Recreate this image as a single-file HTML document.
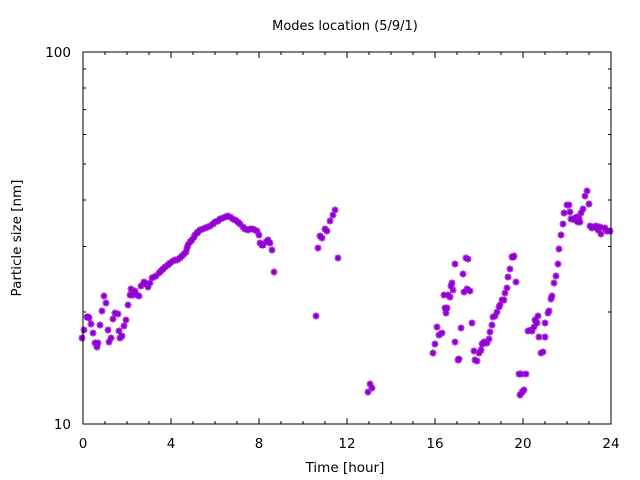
<!DOCTYPE html>
<html><head><meta charset="utf-8"><style>
body{margin:0;background:#fff;}
svg{display:block;font-family:"DejaVu Sans","Liberation Sans",sans-serif;}
</style></head><body>
<svg id="s" width="640" height="480" viewBox="0 0 640 480" xmlns="http://www.w3.org/2000/svg">
<rect width="640" height="480" fill="#fff"/>
<text x="345" y="30" font-size="13" text-anchor="middle">Modes location (5/9/1)</text>
<text x="71" y="57" font-size="13.5" text-anchor="end">100</text>
<text x="71" y="429" font-size="13.5" text-anchor="end">10</text>
<text x="83" y="448" font-size="13.5" text-anchor="middle">0</text>
<text x="171" y="448" font-size="13.5" text-anchor="middle">4</text>
<text x="259" y="448" font-size="13.5" text-anchor="middle">8</text>
<text x="347" y="448" font-size="13.5" text-anchor="middle">12</text>
<text x="435" y="448" font-size="13.5" text-anchor="middle">16</text>
<text x="523" y="448" font-size="13.5" text-anchor="middle">20</text>
<text x="611" y="448" font-size="13.5" text-anchor="middle">24</text>
<text x="345" y="472" font-size="13.5" text-anchor="middle">Time [hour]</text>
<text transform="translate(21,238) rotate(-90)" font-size="13.5" text-anchor="middle">Particle size [nm]</text>
<g id="ax" stroke="#000" stroke-width="1" fill="none"></g>
<g id="pts" stroke="#9400d3" stroke-width="1.6"></g>
<rect x="83" y="52" width="528" height="372" fill="none" stroke="#000" stroke-width="1"/>
</svg>
<script>
var ax=document.getElementById('ax'),d='';
for(var h=0;h<=24;h++){var x=83+h*22,L=(h%4==0)?6:3;d+='M'+x+' 424v-'+L+'M'+x+' 52v'+L;}
for(var v=10;v<=100;v+=10){var y=424-372*Math.log10(v/10),L=(v==10||v==100)?6:3;d+='M83 '+y+'h'+L+'M611 '+y+'h-'+L;}
var p=document.createElementNS('http://www.w3.org/2000/svg','path');p.setAttribute('d',d);ax.appendChild(p);
var P=[[82,338],[84,330],[87,317],[88,317],[89,318],[91,324],[93,333],[95,343],[97,347],[98,343],[100,325],[102,311],[104,296],[106,303],[108,330],[109,342],[111,338],[113,319],[115,313],[118,314],[119,331],[120,338],[122,336],[124,326],[126,320],[128,305],[130,295],[131,289],[133,295],[135,291],[137,295],[139,296],[141,286],[144,282],[146,284],[148,287],[150,283],[152,278],[154,277],[156,276],[159,273],[161,271],[163,269],[165,267],[168,265],[170,263],[173,261],[175,260],[177,260],[180,258],[182,256],[184,254],[186,252],[187,248],[188,245],[190,242],[192,240],[194,237],[195,235],[197,233],[198,232],[200,230],[203,229],[205,228],[208,227],[210,226],[213,224],[215,222],[218,221],[220,219],[223,218],[225,217],[228,216],[230,217],[233,219],[235,220],[238,222],[240,224],[243,227],[245,229],[248,230],[250,229],[253,229],[255,230],[257,231],[259,235],[260,243],[262,245],[263,245],[266,242],[268,240],[270,243],[272,250],[274,272],
[316,316],[318,248],[320,236],[322,238],[325,229],[327,231],[330,221],[333,215],[335,210],[338,258],[368,392],[370,384],[372,388],
[433,353],[435,344],[437,327],[439,335],[442,333],[444,295],[445,308],[446,313],[447,308],[448,295],[450,297],[451,286],[452,283],[453,290],[455,264],[455,342],[458,360],[459,359],[461,328],[463,274],[464,292],[466,258],[467,289],[468,259],[470,291],[472,323],[474,351],[475,360],[477,361],[479,353],[481,350],[482,344],[484,342],[485,343],[487,343],[489,339],[490,332],[492,325],[493,317],[495,316],[497,312],[499,307],[500,305],[502,300],[504,300],[505,293],[507,288],[508,277],[510,269],[512,257],[513,257],[514,256],[516,282],[519,374],[521,374],[520,395],[522,392],[524,390],[526,374],[528,331],[531,330],[532,331],[534,327],[535,320],[537,323],[538,316],[539,337],[541,353],[543,352],[545,337],[545,323],[548,313],[549,311],[551,299],[552,296],[554,283],[556,276],[558,264],[559,249],[561,235],[563,224],[564,213],[567,205],[569,205],[570,212],[571,219],[573,219],[575,220],[576,218],[577,217],[578,222],[579,218],[580,222],[581,213],[583,209],[585,196],[587,191],[589,204],[590,226],[592,228],[594,227],[596,226],[598,230],[600,227],[601,234],[605,228],[607,231],[610,231]];
var g='';for(var i=0;i<P.length;i++){var x=P[i][0],y=P[i][1];g+='M'+(x-3.5)+' '+y+'h7M'+x+' '+(y-3.5)+'v7M'+(x-2.5)+' '+(y-2.5)+'l5 5M'+(x-2.5)+' '+(y+2.5)+'l5 -5';}
var q=document.createElementNS('http://www.w3.org/2000/svg','path');q.setAttribute('d',g);document.getElementById('pts').appendChild(q);
</script>
</body></html>
